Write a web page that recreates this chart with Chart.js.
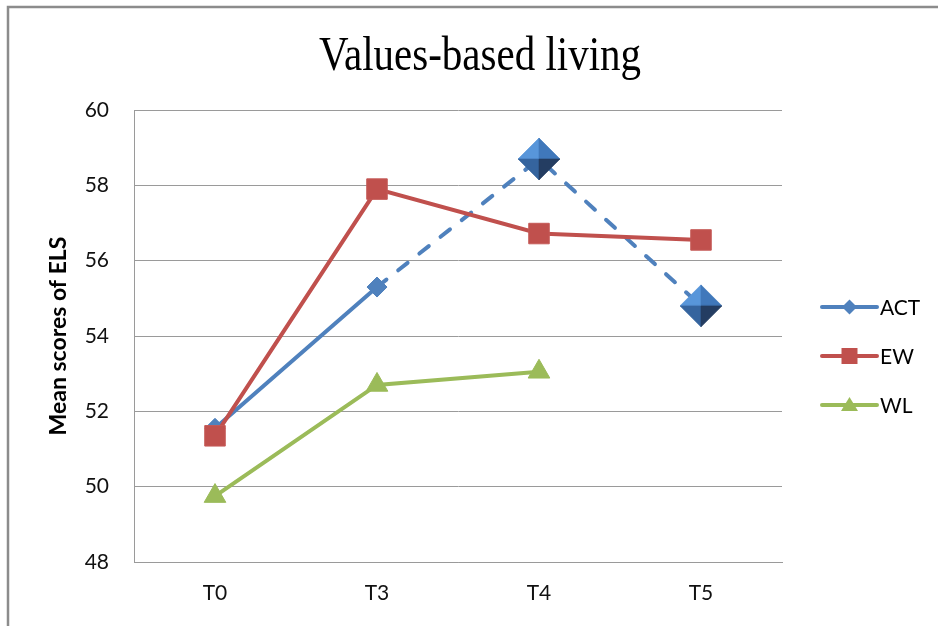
<!DOCTYPE html>
<html>
<head>
<meta charset="utf-8">
<title>Values-based living</title>
<script src="https://cdn.jsdelivr.net/npm/chart.js@4.4.1/dist/chart.umd.min.js"></script>
<style>
  html, body { margin: 0; padding: 0; background: #ffffff; }
  #wrap { width: 938px; height: 626px; position: relative; }
</style>
</head>
<body>
<div id="wrap"><canvas id="chart" width="938" height="626"></canvas></div>
<script>
// Measurement points and mean ELS scores per group
const timepoints = ['T0', 'T3', 'T4', 'T5'];
const actScores = [51.55, 55.3, 58.7, 54.8];
const ewScores = [51.35, 57.9, 56.72, 56.55];
const wlScores = [49.75, 52.7, 53.05, null];
const seriesNames = ['ACT', 'EW', 'WL'];
const chartTitle = 'Values-based living';
const yAxisTitle = 'Mean scores of ELS';
const yMin = 48, yMax = 60, yStep = 2;

const BLUE = '#4f81bd', RED = '#c0504d', GREEN = '#9bbb59';
const SANS = 'Lato, "Open Sans", "Liberation Sans", sans-serif';

// Faceted (pyramid-like) diamond marker used for the follow-up points
function makePyramidDiamond(half) {
  const c = document.createElement('canvas');
  const s = half * 2 + 2;
  c.width = s; c.height = s;
  const g = c.getContext('2d');
  const cx = s / 2, cy = s / 2;
  const top = [cx, cy - half], right = [cx + half, cy], bottom = [cx, cy + half], left = [cx - half, cy];
  const facets = [
    [left, top, '#5896da'],
    [top, right, '#4078bb'],
    [left, bottom, '#35649e'],
    [right, bottom, '#243d62']
  ];
  facets.forEach(([a, b, col]) => {
    g.beginPath();
    g.moveTo(cx, cy); g.lineTo(a[0], a[1]); g.lineTo(b[0], b[1]); g.closePath();
    g.fillStyle = col; g.fill();
    g.strokeStyle = col; g.lineWidth = 0.6; g.stroke();
  });
  return c;
}
const bigDiamond = makePyramidDiamond(21);

// Background, outer frame, title and legend
const decorations = {
  id: 'decorations',
  beforeDraw(chart) {
    const ctx = chart.ctx;
    ctx.save();
    ctx.fillStyle = '#ffffff';
    ctx.fillRect(0, 0, chart.width, chart.height);
    ctx.strokeStyle = '#8c8c8c';
    ctx.lineWidth = 2.5;
    ctx.strokeRect(8, 7, 1000, 700);
    ctx.restore();
  },
  afterDraw(chart) {
    const ctx = chart.ctx;
    ctx.save();
    // title
    ctx.fillStyle = '#000000';
    ctx.font = '41px "Liberation Serif", "Times New Roman", serif';
    ctx.textAlign = 'center';
    ctx.textBaseline = 'alphabetic';
    ctx.translate(480, 70);
    ctx.scale(1, 1.18);
    ctx.fillText(chartTitle, 0, 0);
    ctx.restore();

    // legend: line sample with marker, then name
    ctx.save();
    chart.data.datasets.forEach((ds, i) => {
      const y = 307 + i * 49;
      const x0 = 822, x1 = 877, xm = (x0 + x1) / 2;
      const col = ds.borderColor;
      ctx.strokeStyle = col;
      ctx.lineWidth = 4;
      ctx.lineCap = 'round';
      ctx.beginPath(); ctx.moveTo(x0, y); ctx.lineTo(x1, y); ctx.stroke();
      ctx.fillStyle = col;
      ctx.beginPath();
      if (i === 0) {
        ctx.moveTo(xm, y - 7.5); ctx.lineTo(xm + 7.5, y); ctx.lineTo(xm, y + 7.5); ctx.lineTo(xm - 7.5, y);
      } else if (i === 1) {
        ctx.rect(xm - 8, y - 8, 16, 16);
      } else {
        ctx.moveTo(xm, y - 8); ctx.lineTo(xm + 8.5, y + 6); ctx.lineTo(xm - 8.5, y + 6);
      }
      ctx.closePath(); ctx.fill();
      ctx.fillStyle = '#000000';
      ctx.font = '21px ' + SANS;
      ctx.textAlign = 'left';
      ctx.textBaseline = 'middle';
      ctx.fillText(ds.label, 880, y + 1);
    });
    ctx.restore();
  }
};

new Chart(document.getElementById('chart'), {
  type: 'line',
  data: {
    labels: timepoints,
    datasets: [
      {
        label: seriesNames[0],
        data: actScores,
        borderColor: BLUE,
        backgroundColor: BLUE,
        borderWidth: 4,
        borderCapStyle: 'round',
        tension: 0,
        order: 3,
        pointStyle: (c) => c.dataIndex >= 2 ? bigDiamond : 'rectRot',
        pointRadius: 10,
        pointBorderWidth: 1,
        pointBorderColor: BLUE,
        pointBackgroundColor: BLUE,
        segment: {
          borderDash: (c) => c.p0DataIndex >= 1 ? [12, 15] : undefined
        }
      },
      {
        label: seriesNames[1],
        data: ewScores,
        borderColor: RED,
        backgroundColor: RED,
        borderWidth: 4,
        tension: 0,
        order: 2,
        pointStyle: 'rect',
        pointRadius: 14.5,
        pointBorderWidth: 1,
        pointBorderColor: '#c55a57',
        pointBackgroundColor: RED
      },
      {
        label: seriesNames[2],
        data: wlScores,
        borderColor: GREEN,
        backgroundColor: GREEN,
        borderWidth: 4,
        tension: 0,
        order: 1,
        pointStyle: 'triangle',
        pointRadius: 12.5,
        pointBorderWidth: 1,
        pointBorderColor: GREEN,
        pointBackgroundColor: GREEN
      }
    ]
  },
  options: {
    responsive: false,
    animation: false,
    events: [],
    layout: { padding: { left: 8, top: 110, right: 156, bottom: 24 } },
    plugins: {
      legend: { display: false },
      title: { display: false },
      tooltip: { enabled: false }
    },
    scales: {
      x: {
        offset: true,
        grid: { display: false, drawTicks: false },
        border: { display: true, color: '#9a9a9a', width: 1 },
        ticks: { color: '#111111', font: { family: SANS, size: 21 }, padding: 19 },
        afterFit(scale) { scale.height = 40; }
      },
      y: {
        min: yMin,
        max: yMax,
        grid: { color: '#9a9a9a', lineWidth: 1, drawTicks: false },
        border: { display: true, color: '#9a9a9a', width: 1 },
        ticks: { stepSize: yStep, color: '#111111', font: { family: SANS, size: 21 }, padding: 25 },
        title: {
          display: true,
          text: yAxisTitle,
          color: '#000000',
          font: { family: SANS, size: 23, weight: 'bold' },
          padding: { top: 37, bottom: 0 }
        },
        afterFit(scale) { scale.width = 126; }
      }
    }
  },
  plugins: [decorations]
});
</script>
</body>
</html>
